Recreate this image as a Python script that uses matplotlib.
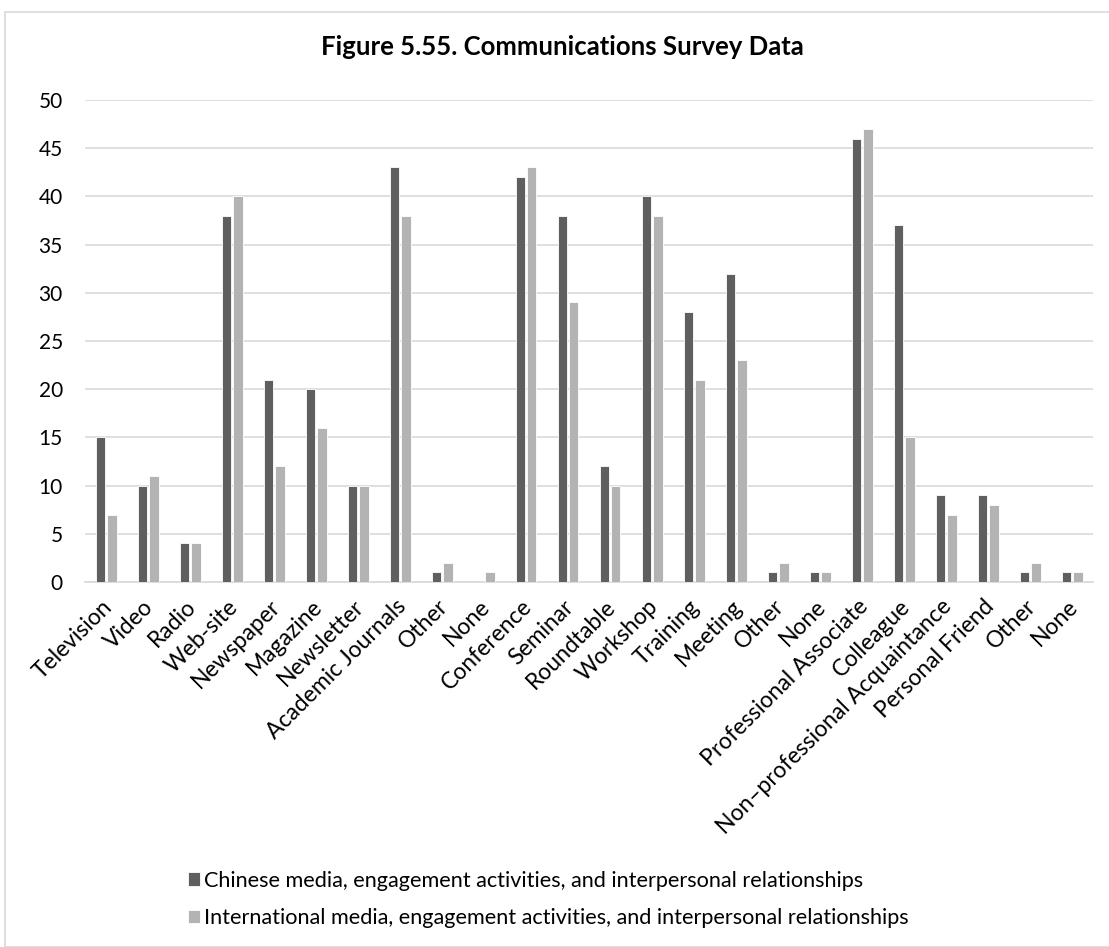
import matplotlib
matplotlib.use("Agg")
import matplotlib.pyplot as plt
from matplotlib.patches import Rectangle
from matplotlib.transforms import ScaledTranslation
import numpy as np

categories = [
    "Television", "Video", "Radio", "Web-site", "Newspaper", "Magazine",
    "Newsletter", "Academic Journals", "Other", "None", "Conference",
    "Seminar", "Roundtable", "Workshop", "Training", "Meeting", "Other",
    "None", "Professional Associate", "Colleague",
    "Non\u2013professional Acquaintance", "Personal Friend", "Other", "None",
]
chinese = [15, 10, 4, 38, 21, 20, 10, 43, 1, 0, 42, 38, 12, 40, 28, 32,
           1, 1, 46, 37, 9, 9, 1, 1]
international = [7, 11, 4, 40, 12, 16, 10, 38, 2, 1, 43, 29, 10, 38, 21, 23,
                 2, 1, 47, 15, 7, 8, 2, 1]
series_names = [
    "Chinese media, engagement activities, and interpersonal relationships",
    "International media, engagement activities, and interpersonal relationships",
]
yticks = list(range(0, 51, 5))

plt.rcParams["font.family"] = ["Lato", "DejaVu Sans"]

W, H = 1109, 947
fig = plt.figure(figsize=(W / 100, H / 100), dpi=100)
fig.patches.append(Rectangle((5 / W, 0), 1.2, 1 - 12 / H, transform=fig.transFigure,
                             fill=False, edgecolor="#D9D9D9", linewidth=1.2))

ax = fig.add_axes([85 / W, 1 - 582 / H, 1008 / W, 482 / H])
x = np.arange(len(categories))
bw = 0.23
dark, light = "#5F5F5F", "#B3B3B3"
ax.bar(x - bw / 2 - 0.02, chinese, width=bw, color=dark, edgecolor="white",
       linewidth=0.6, label=series_names[0], zorder=3)
ax.bar(x + bw / 2 + 0.02, international, width=bw, color=light, edgecolor="white",
       linewidth=0.6, label=series_names[1], zorder=3)

ax.set_xlim(-0.5, len(categories) - 0.5)
ax.set_ylim(0, 50)
ax.set_yticks(yticks)
ax.yaxis.grid(True, color="#D9D9D9", linewidth=1.2, zorder=0)
ax.set_axisbelow(True)
for s in ["top", "right", "left"]:
    ax.spines[s].set_visible(False)
ax.spines["bottom"].set_color("#D9D9D9")
ax.spines["bottom"].set_linewidth(1.2)
ax.tick_params(axis="y", length=0, labelsize=15, colors="#000000", pad=16)
ax.set_xticks(x)
ax.set_xticklabels(categories, rotation=45, ha="right", rotation_mode="anchor")
ax.tick_params(axis="x", length=0, labelsize=16.5, colors="#000000", pad=5)

# nudge the slanted category labels slightly down and to the left
shift = ScaledTranslation(-5 / 100, -7 / 100, fig.dpi_scale_trans)
for lbl in ax.get_xticklabels():
    lbl.set_transform(lbl.get_transform() + shift)

fig.text(562 / W, 1 - 47 / H, "Figure 5.55. Communications Survey Data",
         ha="center", va="center", fontsize=18.5, fontweight="bold")

fig.legend(loc="upper left", bbox_to_anchor=(179 / W, 1 - 862 / H), frameon=False,
           handlelength=0.55, handleheight=0.55, handletextpad=0.2,
           labelspacing=0.8, fontsize=15.6, borderaxespad=0)

fig.savefig("out.png", dpi=100)
